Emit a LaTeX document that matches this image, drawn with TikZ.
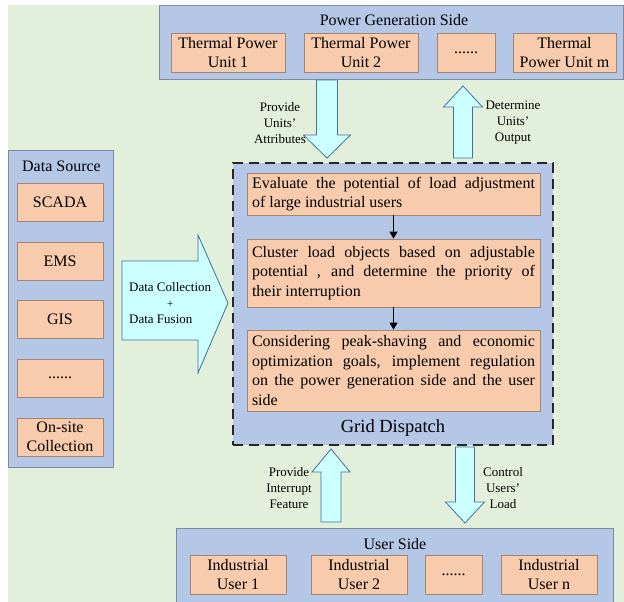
\documentclass[tikz,border=0pt]{standalone}
\newcommand{\vflow}[6]{% x, tail y, base y, tip y, half shaft, half head
    \draw[flow] (#1-#5,#2) -- (#1-#5,#3) -- (#1-#6,#3) -- (#1,#4) -- (#1+#6,#3) -- (#1+#5,#3) -- (#1+#5,#2) -- cycle;
}
\newcommand{\sixdots}{......}
\usepackage{fontspec}
\setmainfont{Liberation Serif}[Ligatures=TeX]
\newfontfamily\tnr{Liberation Serif}
\usepackage{tikz}
\usetikzlibrary{arrows.meta}
\definecolor{bggreen}{HTML}{E2EFDA}
\definecolor{sideblue}{HTML}{B4C7E7}
\definecolor{sideedge}{HTML}{7F8A9C}
\definecolor{unitorange}{HTML}{F8CBAD}
\definecolor{unitedge}{HTML}{A38672}
\definecolor{flowcyan}{HTML}{CCFFFF}
\definecolor{flowedge}{HTML}{41719C}

\begin{document}
\begin{tikzpicture}[x=1pt, y=-1pt,
    sidebox/.style={draw=sideedge, fill=sideblue, line width=0.8pt, inner sep=0pt},
    unitbox/.style={draw=unitedge, fill=unitorange, line width=0.8pt, inner sep=0pt,
        align=center, font=\tnr\fontsize{16}{19.5}\selectfont},
    stepbox/.style={unitbox, minimum width=293pt, text width=283pt, align=justify},
    title/.style={font=\tnr\fontsize{16}{19.5}\selectfont},
    flow/.style={draw=flowedge, fill=flowcyan, line width=0.8pt, line join=miter},
    flowlabel/.style={align=center, font=\tnr\fontsize{13}{16}\selectfont, inner sep=0pt}]
                % Canvas
                \useasboundingbox (0,0) rectangle (624,602);
                \fill[bggreen] (8,5) rectangle (624,602);

                % Power generation side
                \node[sidebox, minimum width=464pt, minimum height=74pt] (gen) at (391,42) {};
                \node[title] (gentitle) at (394,20) {Power Generation Side};
                \node[unitbox, minimum width=114pt, minimum height=39pt] (unit1) at (228,52.5) {Thermal Power\\Unit 1};
                \node[unitbox, minimum width=114pt, minimum height=39pt] (unit2) at (361,52.5) {Thermal Power\\Unit 2};
                \node[unitbox, minimum width=58pt, minimum height=39pt] (unitdots) at (466,52.5) {\sixdots};
                \node[unitbox, minimum width=103pt, minimum height=39pt] (unitm) at (564.5,52.5) {Thermal\\Power Unit m};

                % Data source
                \node[sidebox, minimum width=105pt, minimum height=317pt] (src) at (60.5,308.5) {};
                \node[title] (srctitle) at (61.5,166) {Data Source};
                \foreach \nm/\yy/\txt in {scada/202/SCADA, ems/261/EMS, gis/319.5/GIS,
                        srcdots/378/\sixdots, onsite/437/{On-site\\Collection}}{
                    \node[unitbox, minimum width=86pt, minimum height=38pt] (\nm) at (60,\yy) {\txt};
                }

                % Grid dispatch
                \node[sidebox, draw=black!85, line width=1.5pt, dash pattern=on 10pt off 6pt,
                    minimum width=320pt, minimum height=282pt] (dispatch) at (393,304) {};
                \node[stepbox, minimum height=42pt] (evaluate) at (393.5,194)
                    {Evaluate the potential of load adjustment\linebreak of large industrial users};
                \node[stepbox, minimum height=68pt] (cluster) at (393.5,273)
                    {Cluster load objects based on adjustable\linebreak potential , and determine the priority of\linebreak their interruption};
                \node[stepbox, minimum height=81pt] (regulate) at (393.5,370.5)
                    {Considering peak-shaving and economic\linebreak optimization goals, implement regulation\linebreak on the power generation side and the user\linebreak side};
                \node[font=\tnr\fontsize{18.5}{22}\selectfont] (dispatchtitle) at (393,428) {Grid Dispatch};
                \draw[line width=1pt, -{Triangle[length=7pt, width=8pt]}] (evaluate) -- (cluster);
                \draw[line width=1pt, -{Triangle[length=7pt, width=8pt]}] (cluster) -- (regulate);

                % User side
                \node[sidebox, minimum width=437pt, minimum height=74pt] (user) at (394.5,565) {};
                \node[title] (usertitle) at (395,544) {User Side};
                \node[unitbox, minimum width=96pt, minimum height=39pt] (user1) at (238,574.5) {Industrial\\User 1};
                \node[unitbox, minimum width=96pt, minimum height=39pt] (user2) at (359,574.5) {Industrial\\User 2};
                \node[unitbox, minimum width=57pt, minimum height=39pt] (userdots) at (453.5,574.5) {\sixdots};
                \node[unitbox, minimum width=96pt, minimum height=39pt] (usern) at (549,574.5) {Industrial\\User n};

                % Block arrows
                \vflow{327}{80}{135}{158}{10.5}{23.5}
                \vflow{463}{158}{107}{86}{9.5}{19.5}
                \vflow{331}{522}{472}{449}{10}{19}
                \vflow{465}{447}{502}{523}{9.5}{19.5}
                \draw[flow] (122,261) -- (198,261) -- (198,235) -- (228,303) -- (198,373)
                    -- (198,340) -- (122,340) -- cycle;

                % Arrow labels
                \node[flowlabel] (attrlabel) at (280,123) {Provide\\Units’\\Attributes};
                \node[flowlabel] (outlabel) at (513,123) {Determine\\Units’\\Output};
                \node[flowlabel] (featlabel) at (289,488) {Provide\\Interrupt\\Feature};
                \node[flowlabel] (loadlabel) at (503,488) {Control\\Users’\\Load};
                \node[flowlabel, anchor=west] (fuselabel) at (129,304)
                    {\begin{tabular}{@{}l@{}}Data Collection\\\multicolumn{1}{@{}c@{}}{\fontsize{11}{16}\selectfont +}\\Data Fusion\end{tabular}};
            \end{tikzpicture}
\end{document}
